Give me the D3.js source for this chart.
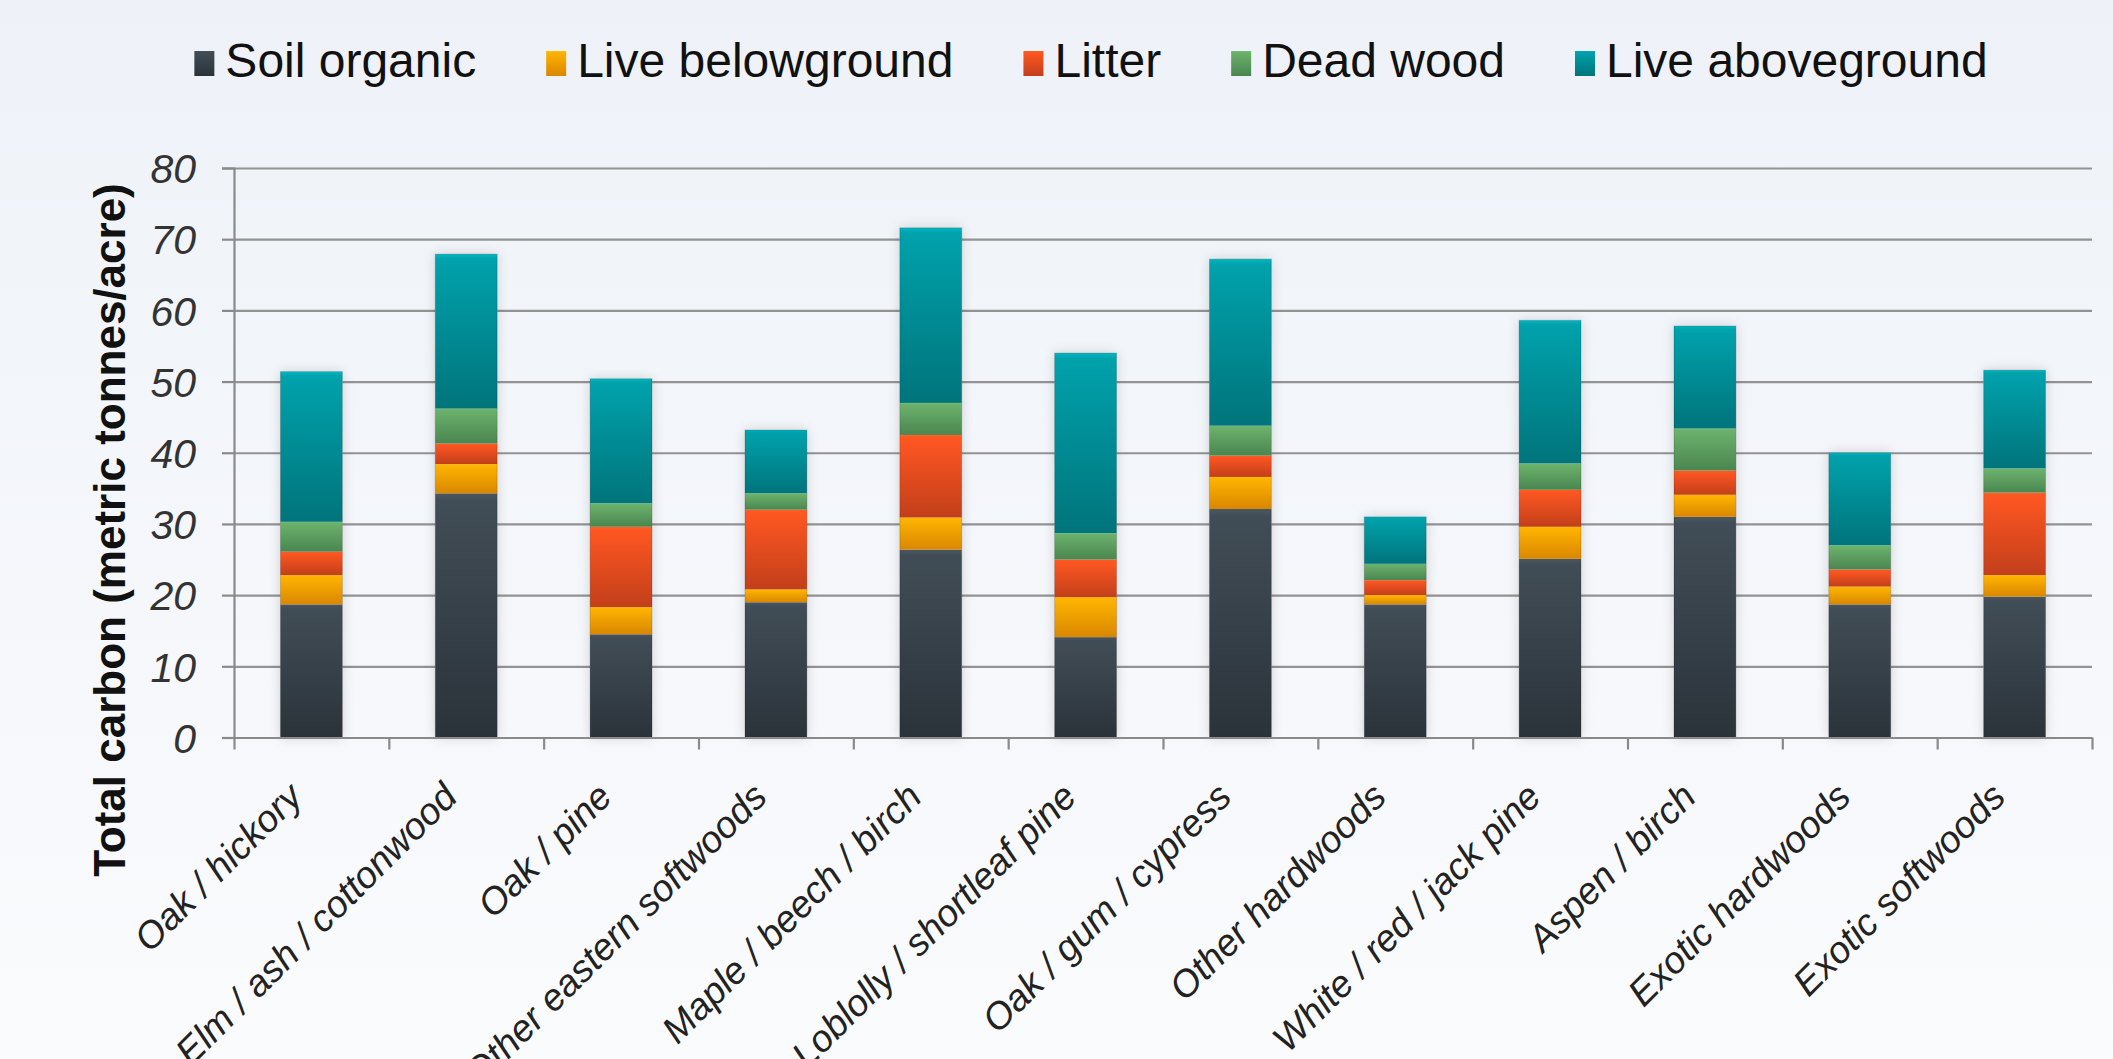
<!DOCTYPE html>
<html>
<head>
<meta charset="utf-8">
<script src="https://cdn.jsdelivr.net/npm/d3@7"></script>
<style>
  html, body { margin: 0; padding: 0; }
  body { width: 2113px; height: 1059px; overflow: hidden; }
  svg { display: block; }
</style>
</head>
<body>
<svg id="chart" width="2113" height="1059"></svg>
<script>
// Forest types along the x axis
const categories = [
  "Oak / hickory", "Elm / ash / cottonwood", "Oak / pine", "Other eastern softwoods",
  "Maple / beech / birch", "Loblolly / shortleaf pine", "Oak / gum / cypress",
  "Other hardwoods", "White / red / jack pine", "Aspen / birch",
  "Exotic hardwoods", "Exotic softwoods"
];

// Carbon pools, stacked bottom to top (metric tonnes/acre)
const seriesNames = ["Soil organic", "Live belowground", "Litter", "Dead wood", "Live aboveground"];
const soilOrganic     = [18.7, 34.3, 14.5, 19.0, 26.4, 14.1, 32.1, 18.7, 25.1, 31.0, 18.7, 19.8];
const liveBelowground = [ 4.1,  4.1,  3.8,  1.8,  4.5,  5.6,  4.5,  1.3,  4.5,  3.1,  2.5,  3.0];
const litter          = [ 3.3,  2.9, 11.3, 11.2, 11.6,  5.3,  3.0,  2.1,  5.2,  3.4,  2.4, 11.6];
const deadWood        = [ 4.2,  4.9,  3.3,  2.3,  4.5,  3.7,  4.2,  2.3,  3.7,  5.9,  3.4,  3.4];
const liveAboveground = [21.1, 21.7, 17.5,  8.9, 24.6, 25.3, 23.4,  6.6, 20.1, 14.4, 13.0, 13.8];

const yTicks = [0, 10, 20, 30, 40, 50, 60, 70, 80];
const yTitle = "Total carbon (metric tonnes/acre)";

// Colour ramps per pool: [top, bottom]
const poolColors = [
  ["#414d56", "#2b333a"],
  ["#ffb400", "#d98700"],
  ["#ff5722", "#c23f1a"],
  ["#6cb26c", "#4a8650"],
  ["#00a2ac", "#00747b"]
];

const svg = d3.select("#chart");
const W = 2113, H = 1059;
const margin = { left: 234, right: 2092, top: 168, bottom: 737.5 };
const fontFamily = "'Liberation Sans', Arial, sans-serif";

const defs = svg.append("defs");

// page background
const bg = defs.append("linearGradient").attr("id", "bg").attr("x1", 0).attr("y1", 0).attr("x2", 0).attr("y2", 1);
bg.append("stop").attr("offset", "0%").attr("stop-color", "#eef2f8");
bg.append("stop").attr("offset", "100%").attr("stop-color", "#fafbfd");
svg.append("rect").attr("width", W).attr("height", H).attr("fill", "url(#bg)");

poolColors.forEach((c, i) => {
  const g = defs.append("linearGradient").attr("id", "pool" + i)
    .attr("x1", 0).attr("y1", 0).attr("x2", 0).attr("y2", 1);
  g.append("stop").attr("offset", "0%").attr("stop-color", d3.color(c[0]).brighter(0.35));
  g.append("stop").attr("offset", "3%").attr("stop-color", c[0]);
  g.append("stop").attr("offset", "100%").attr("stop-color", c[1]);
});

const shadow = defs.append("filter").attr("id", "barShadow")
  .attr("x", "-40%").attr("y", "-10%").attr("width", "180%").attr("height", "120%");
shadow.append("feDropShadow").attr("dx", 0).attr("dy", 0).attr("stdDeviation", 6)
  .attr("flood-color", "#000").attr("flood-opacity", 0.16);

// scales
const x = d3.scaleBand().domain(categories).range([margin.left, margin.right])
  .paddingInner(0.6).paddingOuter(0.3);
const xEdges = d3.scaleLinear().domain([0, categories.length]).range([margin.left, margin.right]);
const y = d3.scaleLinear().domain([0, 80]).range([margin.bottom, margin.top]);

// gridlines
const grid = svg.append("g").attr("transform", `translate(${margin.left},0)`)
  .call(d3.axisLeft(y).tickValues(yTicks).tickSize(-(margin.right - margin.left)).tickFormat(""));
grid.select(".domain").remove();
grid.selectAll("line").attr("stroke", "#939393").attr("stroke-width", 2.2);

// y axis with tick labels
const yAxis = svg.append("g").attr("transform", `translate(${margin.left},0)`)
  .call(d3.axisLeft(y).tickValues(yTicks).tickSize(12).tickPadding(26).tickFormat(d3.format("d")));
yAxis.select(".domain").attr("stroke", "#8a8a8a").attr("stroke-width", 2.2);
yAxis.selectAll("line").attr("stroke", "#8a8a8a").attr("stroke-width", 2.2);
yAxis.selectAll("text")
  .attr("font-family", fontFamily)
  .attr("font-size", 41).attr("font-style", "italic").attr("fill", "#333")
  .attr("dy", "0.36em");

// stacked data
const rows = categories.map((c, i) => ({
  category: c,
  "Soil organic": soilOrganic[i],
  "Live belowground": liveBelowground[i],
  "Litter": litter[i],
  "Dead wood": deadWood[i],
  "Live aboveground": liveAboveground[i]
}));
const stacked = d3.stack().keys(seriesNames)(rows);
const total = d => d3.sum(seriesNames, k => d[k]);

// soft halo behind each bar
svg.append("g").selectAll("rect").data(rows).join("rect")
  .attr("x", d => x(d.category))
  .attr("width", x.bandwidth())
  .attr("y", d => y(total(d)))
  .attr("height", d => y(0) - y(total(d)))
  .attr("fill", "#f4f6f9")
  .attr("filter", "url(#barShadow)");

const barsG = svg.append("g");
stacked.forEach((layer, li) => {
  barsG.append("g").selectAll("rect").data(layer).join("rect")
    .attr("x", d => x(d.data.category))
    .attr("width", x.bandwidth())
    .attr("y", d => y(d[1]))
    .attr("height", d => y(d[0]) - y(d[1]))
    .attr("fill", `url(#pool${li})`);
});
// thin outline around each whole bar
svg.append("g").selectAll("rect").data(rows).join("rect")
  .attr("x", d => x(d.category))
  .attr("width", x.bandwidth())
  .attr("y", d => y(total(d)))
  .attr("height", d => y(0) - y(total(d)))
  .attr("fill", "none").attr("stroke", "rgba(0,0,0,0.18)").attr("stroke-width", 1);

// x axis: line at zero with ticks at category boundaries
const xAxis = svg.append("g").attr("transform", `translate(0,${margin.bottom})`)
  .call(d3.axisBottom(xEdges).tickValues(d3.range(categories.length + 1)).tickSize(12).tickSizeOuter(0).tickFormat(""));
xAxis.select(".domain").attr("stroke", "#8a8a8a").attr("stroke-width", 2.2);
xAxis.selectAll("line").attr("stroke", "#8a8a8a").attr("stroke-width", 2.2);

// rotated category labels
svg.append("g").selectAll("text").data(categories).join("text")
  .attr("transform", d => `translate(${x(d) + x.bandwidth() / 2 - 7},${799}) rotate(-45)`)
  .attr("text-anchor", "end")
  .attr("font-family", fontFamily)
  .attr("font-size", 37.5).attr("font-style", "italic").attr("fill", "#222")
  .text(d => d);

// y axis title
svg.append("text")
  .attr("transform", `translate(125,${530}) rotate(-90)`)
  .attr("text-anchor", "middle")
  .attr("font-family", fontFamily)
  .attr("font-size", 44).attr("font-weight", "bold").attr("fill", "#111")
  .text(yTitle);

// legend
const legend = svg.append("g");
const markerW = 20, markerH = 25, markerGap = 11, itemGap = 70;
const items = legend.selectAll("g").data(seriesNames).join("g");
items.append("rect")
  .attr("width", markerW).attr("height", markerH).attr("y", 51)
  .attr("fill", (d, i) => `url(#pool${i})`);
items.append("text")
  .attr("x", markerW + markerGap).attr("y", 77)
  .attr("font-family", fontFamily)
  .attr("font-size", 48).attr("fill", "#111")
  .text(d => d);
let cursor = 0;
const offsets = [];
items.each(function () {
  offsets.push(cursor);
  const w = d3.select(this).select("text").node().getComputedTextLength();
  cursor += markerW + markerGap + w + itemGap;
});
const legendWidth = cursor - itemGap;
const legendStart = 1091 - legendWidth / 2;
items.attr("transform", (d, i) => `translate(${legendStart + offsets[i]},0)`);
</script>
</body>
</html>
